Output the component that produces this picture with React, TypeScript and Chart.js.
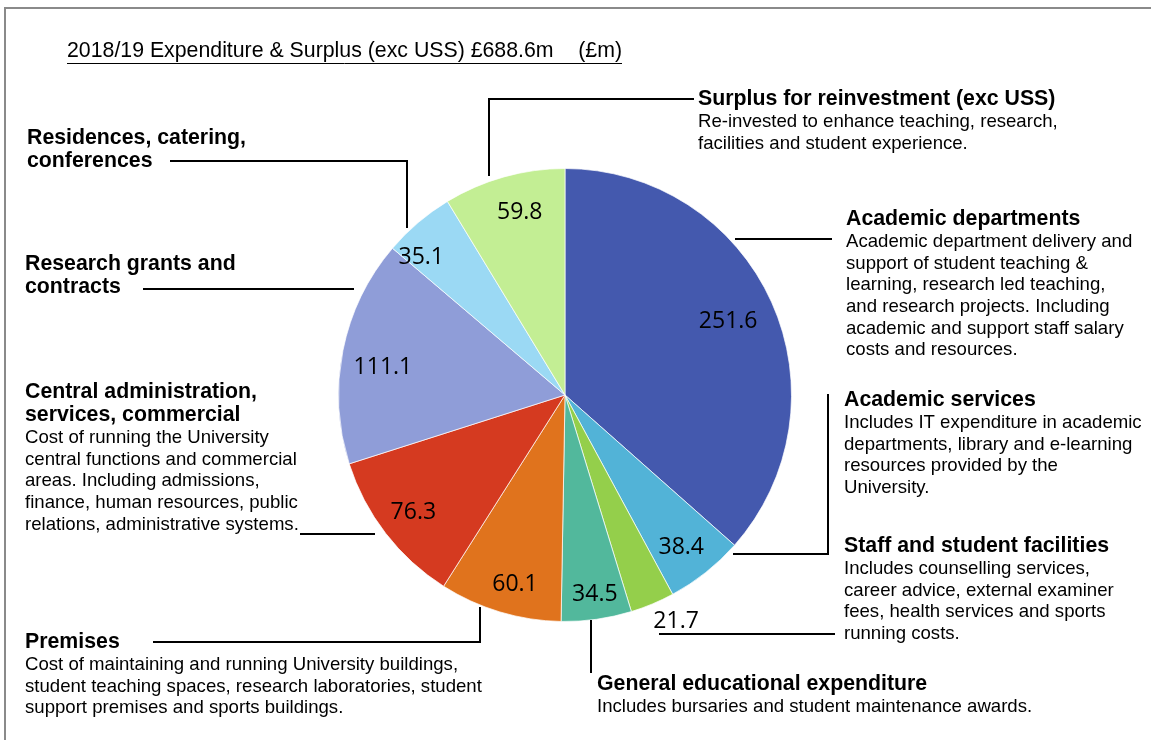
import React, { useEffect, useRef } from "react";
import { Chart, registerables } from "chart.js";

Chart.register(...registerables);

const categories = [
  "Academic departments",
  "Academic services",
  "Staff and student facilities",
  "General educational expenditure",
  "Premises",
  "Central administration, services, commercial",
  "Research grants and contracts",
  "Residences, catering, conferences",
  "Surplus for reinvestment (exc USS)",
];
const values = [251.6, 38.4, 21.7, 34.5, 60.1, 76.3, 111.1, 35.1, 59.8];
const colors = [
  "#4459AE",
  "#52B3D7",
  "#94CF4B",
  "#52B89C",
  "#E0731D",
  "#D53A20",
  "#8F9DD8",
  "#9BD9F4",
  "#C3EE94",
];
const titleMain = "2018/19 Expenditure & Surplus (exc USS) £688.6m";
const titleUnit = "(£m)";

type Note = { x: number; y: number; heads: string[]; body: string[] };
const notes: Note[] = [
  { x: 698, y: 99, heads: ["Surplus for reinvestment (exc USS)"], body: ["Re-invested to enhance teaching, research,", "facilities and student experience."] },
  { x: 27, y: 138, heads: ["Residences, catering,", "conferences"], body: [] },
  { x: 25, y: 264, heads: ["Research grants and", "contracts"], body: [] },
  { x: 25, y: 392, heads: ["Central administration,", "services, commercial"], body: ["Cost of running the University", "central functions and commercial", "areas. Including admissions,", "finance, human resources, public", "relations, administrative systems."] },
  { x: 25, y: 642, heads: ["Premises"], body: ["Cost of maintaining and running University buildings,", "student teaching spaces, research laboratories, student", "support premises and sports buildings."] },
  { x: 846, y: 219, heads: ["Academic departments"], body: ["Academic department delivery and", "support of student teaching &", "learning, research led teaching,", "and research projects. Including", "academic and support staff salary", "costs and resources."] },
  { x: 844, y: 400, heads: ["Academic services"], body: ["Includes IT expenditure in academic", "departments, library and e-learning", "resources provided by the", "University."] },
  { x: 844, y: 546, heads: ["Staff and student facilities"], body: ["Includes counselling services,", "career advice, external examiner", "fees, health services and sports", "running costs."] },
  { x: 597, y: 684, heads: ["General educational expenditure"], body: ["Includes bursaries and student maintenance awards."] },
];

const leaders: number[][][] = [
  [[694, 99], [489, 99], [489, 176]],
  [[170, 161], [407, 161], [407, 228]],
  [[143, 289], [354, 289]],
  [[300, 534], [375, 534]],
  [[153, 642], [480, 642], [480, 607]],
  [[735, 239], [832, 239]],
  [[733, 554], [828, 554], [828, 394]],
  [[659, 634], [835, 634]],
  [[591, 620], [591, 673]],
];

const labelRadius = [0.79, 0.84, 1.11, 0.88, 0.86, 0.84, 0.82, 0.89, 0.84];
const labelShift = [[0, 0], [-2, 3], [14, -5], [2, 2], [6, 3], [-1, 1], [0, 9], [-13, 16], [6, 1]];

const FONT = "'Liberation Sans', Arial, sans-serif";

const overlay = {
  id: "overlay",
  afterDatasetsDraw(chart: any) {
    const ctx = chart.ctx;
    const meta = chart.getDatasetMeta(0);
    ctx.save();
    // frame
    ctx.strokeStyle = "#8a8a8a";
    ctx.lineWidth = 2;
    ctx.beginPath();
    ctx.moveTo(5, 741);
    ctx.lineTo(5, 8);
    ctx.lineTo(1152, 8);
    ctx.stroke();

    // value labels
    ctx.fillStyle = "#000";
    ctx.font = "23px 'Open Sans', 'Noto Sans', sans-serif";
    ctx.textAlign = "center";
    ctx.textBaseline = "middle";
    meta.data.forEach((arc: any, i: number) => {
      const p = arc.getProps(["x", "y", "startAngle", "endAngle", "outerRadius"], true);
      const mid = (p.startAngle + p.endAngle) / 2;
      const r = p.outerRadius * labelRadius[i];
      ctx.fillText(
        String(values[i]),
        p.x + Math.cos(mid) * r + labelShift[i][0],
        p.y + Math.sin(mid) * r + labelShift[i][1]
      );
    });

    // title
    ctx.textAlign = "left";
    ctx.font = `21.3px ${FONT}`;
    ctx.fillText(titleMain, 67, 51);
    ctx.textAlign = "right";
    ctx.fillText(titleUnit, 622, 51);
    ctx.textAlign = "left";
    ctx.lineWidth = 1;
    ctx.strokeStyle = "#000";
    ctx.beginPath();
    ctx.moveTo(67, 63.5);
    ctx.lineTo(622, 63.5);
    ctx.stroke();

    // notes
    notes.forEach((n) => {
      let y = n.y;
      ctx.font = `bold 21.3px ${FONT}`;
      n.heads.forEach((h) => {
        ctx.fillText(h, n.x, y);
        y += 23;
      });
      ctx.font = `18.6px ${FONT}`;
      n.body.forEach((b) => {
        ctx.fillText(b, n.x, y);
        y += 21.6;
      });
    });

    // leader lines
    ctx.lineWidth = 2;
    ctx.strokeStyle = "#000";
    leaders.forEach((pts) => {
      ctx.beginPath();
      pts.forEach((pt, k) => (k === 0 ? ctx.moveTo(pt[0], pt[1]) : ctx.lineTo(pt[0], pt[1])));
      ctx.stroke();
    });
    ctx.restore();
  },
};

export default function App() {
  const ref = useRef<HTMLCanvasElement>(null);
  useEffect(() => {
    if (!ref.current) return;
    const chart = new Chart(ref.current, {
      type: "pie",
      data: {
        labels: categories,
        datasets: [
          {
            data: values,
            backgroundColor: colors,
            borderColor: "rgba(255,255,255,0.7)",
            borderWidth: 1,
          },
        ],
      },
      options: {
        responsive: false,
        animation: false,
        layout: { padding: { left: 338, right: 359, top: 168, bottom: 118 } },
        plugins: { legend: { display: false }, tooltip: { enabled: false } },
      },
      plugins: [overlay],
    });
    return () => chart.destroy();
  }, []);
  return (
    <div style={{ position: "absolute", left: 0, top: 0, width: 1151, height: 740, background: "#fff" }}>
      <canvas ref={ref} width={1151} height={740} style={{ width: 1151, height: 740 }} />
    </div>
  );
}
